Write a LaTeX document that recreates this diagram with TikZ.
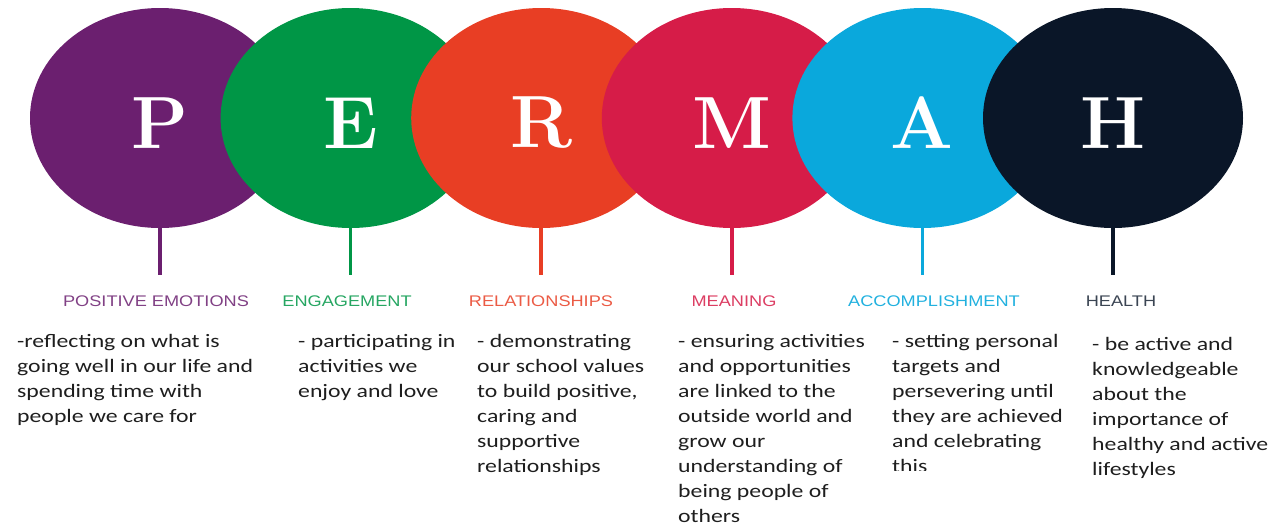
\documentclass[tikz,border=0pt]{standalone}
\usepackage{fontspec}
\newfontfamily\bodyfont[FakeStretch=1.25]{Carlito}
\newfontfamily\capsfont[FakeStretch=1.18]{Liberation Sans}
\usetikzlibrary{shapes.geometric,positioning}

\definecolor{pcol}{HTML}{6B1F6F}
\definecolor{ecol}{HTML}{009646}
\definecolor{rcol}{HTML}{E83E24}
\definecolor{mcol}{HTML}{D61C48}
\definecolor{acol}{HTML}{0AA8DC}
\definecolor{hcol}{HTML}{0A1628}
\definecolor{ink}{HTML}{1E1E1E}

\tikzset{
  ball/.style={ellipse, minimum width=260pt, minimum height=220pt, inner sep=0pt},
  letter/.style={text=white, inner sep=0pt, font=\fontsize{74}{74}\selectfont\bfseries},
  stem/.style={line width=3.5pt},
  head/.style={inner sep=0pt, font=\capsfont\fontsize{15.4}{16}\selectfont},
  body/.style={anchor=north west, inner sep=0pt, align=left, text=ink,
    font=\bodyfont\fontsize{19}{25}\selectfont, execute at begin node=\strut}
}

\begin{document}
\begin{tikzpicture}[x=1pt, y=-1pt]
\useasboundingbox (0,0) rectangle (1272,531);

% circles, each one over the one before
\node [ball, fill=pcol] (p) at (160,118) {};
\node [letter] (pl) at ([yshift=-5pt]p.center) {P};
\node [ball, fill=ecol] (e) at (350.6,118) {};
\node [letter] (el) at ([yshift=-5pt]e.center) {E};
\node [ball, fill=rcol] (r) at (541.2,118) {};
\node [letter] (rl) at ([yshift=-5pt]r.center) {R};
\node [ball, fill=mcol] (m) at (731.8,118) {};
\node [letter] (ml) at ([yshift=-5pt]m.center) {M};
\node [ball, fill=acol] (a) at (922.4,118) {};
\node [letter] (al) at ([yshift=-5pt]a.center) {A};
\node [ball, fill=hcol] (h) at (1113,118) {};
\node [letter] (hl) at ([yshift=-5pt]h.center) {H};

% stems
\coordinate (pend) at (160,275);
\coordinate (eend) at (350.6,275);
\coordinate (rend) at (541.2,275);
\coordinate (mend) at (731.8,275);
\coordinate (aend) at (922.4,275);
\coordinate (hend) at (1113,275);
\draw [stem, pcol] (p.south) -- (pend);
\draw [stem, ecol] (e.south) -- (eend);
\draw [stem, rcol] (r.south) -- (rend);
\draw [stem, mcol] (m.south) -- (mend);
\draw [stem, acol] (a.south) -- (aend);
\draw [stem, hcol] (h.south) -- (hend);

% headings
\node [head, text=pcol!85!white] (phead) at (156,301.5) {POSITIVE EMOTIONS};
\node [head, text=ecol!85!white] (ehead) at (347,301.5) {ENGAGEMENT};
\node [head, text=rcol!85!white] (rhead) at (541,301.5) {RELATIONSHIPS};
\node [head, text=mcol!85!white] (mhead) at (734,301.5) {MEANING};
\node [head, text=acol!90!white] (ahead) at (934,301.5) {ACCOMPLISHMENT};
\node [head, text=hcol!80!white] (hhead) at (1121,301.5) {HEALTH};

% texts
\node [body] (ptext) at (17,334.5) {-reflecting on what is\\going well in our life and\\spending time with\\people we care for};
\node [body] (etext) at (298,334.5) {- participating in\\activities we\\enjoy and love};
\node [body] (rtext) at (477,334.5) {- demonstrating\\our school values\\to build positive,\\caring and\\supportive\\relationships};
\node [body] (mtext) at (678,334.5) {- ensuring activities\\and opportunities\\are linked to the\\outside world and\\grow our\\understanding of\\being people of\\others};
\begin{scope}
\clip (880,320) rectangle (1085,470);
\node [body] (atext) at (892,334.5) {- setting personal\\targets and\\persevering until\\they are achieved\\and celebrating\\this};
\end{scope}
\node [body] (htext) at (1092,337) {- be active and\\knowledgeable\\about the\\importance of\\healthy and active\\lifestyles};

\end{tikzpicture}
\end{document}
